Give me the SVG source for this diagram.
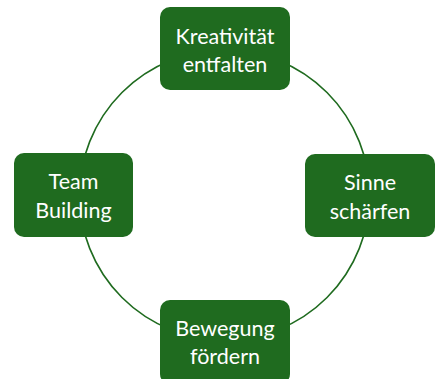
<svg xmlns="http://www.w3.org/2000/svg" width="439" height="379" viewBox="0 0 439 379">
<style>
.box{fill:#1F6B1F;}
.lbl{font-family:Lato,"Liberation Sans",sans-serif;font-size:21.5px;fill:#ffffff;text-anchor:middle;}
.conn{fill:none;stroke:#1F6B1F;stroke-width:1.6;}
</style>
<rect width="439" height="379" fill="#ffffff"/>
<g id="connectors">
<circle class="conn" cx="224.5" cy="195" r="145"/>
</g>
<g id="node-kreativitaet">
<rect class="box" x="160" y="7" width="130" height="83" rx="10"/>
<text class="lbl" x="225" y="44">Kreativität</text>
<text class="lbl" x="225" y="72">entfalten</text>
</g>
<g id="node-team">
<rect class="box" x="14" y="153" width="119" height="84" rx="10"/>
<text class="lbl" x="73.5" y="189">Team</text>
<text class="lbl" x="73.5" y="218">Building</text>
</g>
<g id="node-sinne">
<rect class="box" x="305" y="154" width="130" height="83" rx="10"/>
<text class="lbl" x="370" y="190">Sinne</text>
<text class="lbl" x="370" y="219">schärfen</text>
</g>
<g id="node-bewegung">
<rect class="box" x="160" y="300" width="130" height="84" rx="10"/>
<text class="lbl" x="225" y="336">Bewegung</text>
<text class="lbl" x="225" y="364">fördern</text>
</g>
</svg>
